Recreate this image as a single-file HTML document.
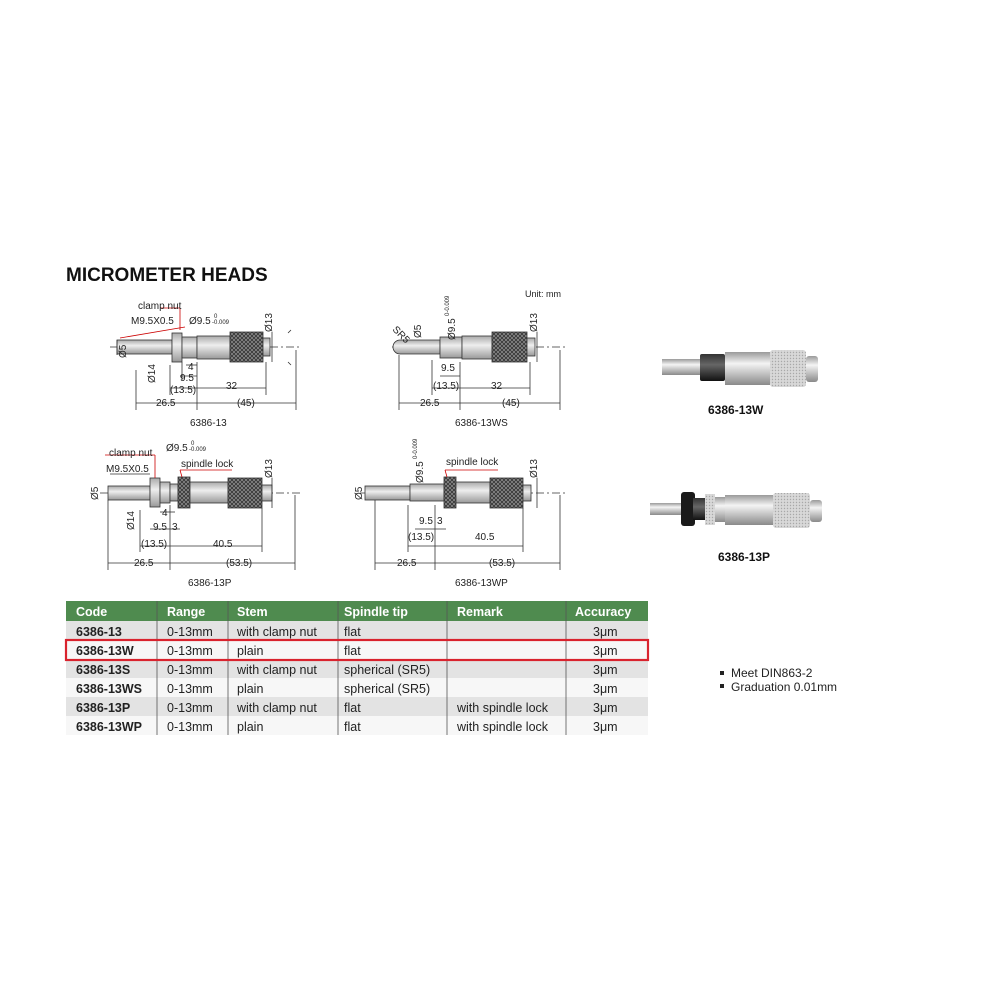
<!DOCTYPE html>
<html><head><meta charset="utf-8"><style>
body{margin:0;background:#fff;}
svg{display:block;font-family:"Liberation Sans",Arial,sans-serif;}
</style></head><body>
<svg width="990" height="990" viewBox="0 0 990 990" xmlns="http://www.w3.org/2000/svg">
<defs>
<pattern id="kn" width="4" height="4" patternUnits="userSpaceOnUse">
<rect width="4" height="4" fill="#8a8a8a"/>
<path d="M0 0L4 4M4 0L0 4" stroke="#333" stroke-width="0.8"/>
</pattern>
<pattern id="kn2" width="3" height="3" patternUnits="userSpaceOnUse">
<rect width="3" height="3" fill="#d8d8d8"/>
<circle cx="1.5" cy="1.5" r="0.7" fill="#a8a8a8"/>
</pattern>
<linearGradient id="met" x1="0" y1="0" x2="0" y2="1">
<stop offset="0" stop-color="#9a9a9a"/><stop offset="0.35" stop-color="#f4f4f4"/><stop offset="1" stop-color="#8a8a8a"/>
</linearGradient>
<linearGradient id="blk" x1="0" y1="0" x2="0" y2="1">
<stop offset="0" stop-color="#333"/><stop offset="0.4" stop-color="#666"/><stop offset="1" stop-color="#111"/>
</linearGradient>
<linearGradient id="dg" x1="0" y1="0" x2="0" y2="1">
<stop offset="0" stop-color="#aaa"/><stop offset="0.4" stop-color="#eee"/><stop offset="1" stop-color="#999"/>
</linearGradient>
</defs>

<text x="66" y="281" font-size="19" font-weight="bold" fill="#111">MICROMETER HEADS</text>
<text x="525" y="297" font-size="9" fill="#222">Unit: mm</text>

<g stroke="#333" stroke-width="0.8" fill="none" font-size="10">
<!-- Diagram 1 -->
<g>
<line x1="110" y1="347" x2="300" y2="347" stroke-dasharray="8 3 2 3"/>
<rect x="117" y="340" width="55" height="14" fill="url(#dg)"/>
<rect x="172" y="333" width="10" height="29" fill="url(#dg)"/>
<rect x="182" y="337" width="15" height="21" fill="url(#dg)"/>
<rect x="197" y="336" width="33" height="23" fill="url(#dg)"/>
<rect x="230" y="332" width="33" height="30" fill="url(#kn)"/>
<rect x="263" y="338" width="7" height="18" fill="url(#dg)"/>
<path d="M288 333 l3 -3 M288 362 l3 3"/>
<line x1="117" y1="340" x2="117" y2="355"/>
<line x1="136" y1="370" x2="136" y2="410"/><line x1="197" y1="362" x2="197" y2="410"/>
<line x1="296" y1="350" x2="296" y2="410"/><line x1="266" y1="362" x2="266" y2="395"/>
<line x1="170" y1="365" x2="170" y2="395"/><line x1="182" y1="362" x2="182" y2="380"/>
<line x1="136" y1="403" x2="197" y2="403"/><line x1="197" y1="403" x2="296" y2="403"/>
<line x1="170" y1="388" x2="197" y2="388"/><line x1="197" y1="388" x2="266" y2="388"/>
<line x1="180" y1="376" x2="197" y2="376"/><line x1="186" y1="365" x2="197" y2="365"/>
<line x1="272" y1="332" x2="272" y2="362"/>
<line x1="120" y1="338" x2="185" y2="327" stroke="#c00"/>
<line x1="160" y1="308" x2="180" y2="308" stroke="#c00"/><line x1="180" y1="308" x2="180" y2="330" stroke="#c00"/>
</g>
<!-- Diagram 2 -->
<g>
<line x1="392" y1="347" x2="565" y2="347" stroke-dasharray="8 3 2 3"/>
<path d="M400 340 h40 v14 h-40 a7 7 0 0 1 0 -14z" fill="url(#dg)"/>
<rect x="440" y="337" width="22" height="21" fill="url(#dg)"/>
<rect x="462" y="336" width="30" height="23" fill="url(#dg)"/>
<rect x="492" y="332" width="35" height="30" fill="url(#kn)"/>
<rect x="527" y="338" width="8" height="18" fill="url(#dg)"/>
<line x1="399" y1="355" x2="399" y2="410"/><line x1="460" y1="362" x2="460" y2="410"/>
<line x1="560" y1="350" x2="560" y2="410"/><line x1="530" y1="362" x2="530" y2="395"/>
<line x1="432" y1="360" x2="432" y2="395"/>
<line x1="399" y1="403" x2="560" y2="403"/><line x1="432" y1="388" x2="530" y2="388"/>
<line x1="440" y1="376" x2="460" y2="376"/>
<line x1="537" y1="332" x2="537" y2="362"/>
</g>
<!-- Diagram 3 -->
<g>
<line x1="100" y1="493" x2="300" y2="493" stroke-dasharray="8 3 2 3"/>
<rect x="108" y="486" width="42" height="14" fill="url(#dg)"/>
<rect x="150" y="478" width="10" height="29" fill="url(#dg)"/>
<rect x="160" y="482" width="10" height="21" fill="url(#dg)"/>
<rect x="170" y="484" width="8" height="17" fill="url(#dg)"/>
<rect x="178" y="477" width="12" height="31" fill="url(#kn)"/>
<rect x="190" y="482" width="38" height="21" fill="url(#dg)"/>
<rect x="228" y="478" width="34" height="30" fill="url(#kn)"/>
<rect x="262" y="485" width="10" height="16" fill="url(#dg)"/>
<line x1="108" y1="500" x2="108" y2="570"/><line x1="170" y1="505" x2="170" y2="570"/>
<line x1="295" y1="495" x2="295" y2="570"/><line x1="262" y1="508" x2="262" y2="552"/>
<line x1="140" y1="510" x2="140" y2="552"/>
<line x1="108" y1="563" x2="295" y2="563"/><line x1="140" y1="546" x2="262" y2="546"/>
<line x1="150" y1="529" x2="180" y2="529"/><line x1="160" y1="512" x2="175" y2="512"/>
<line x1="272" y1="478" x2="272" y2="508"/>
<line x1="110" y1="474" x2="150" y2="474"/>
<line x1="105" y1="455" x2="155" y2="455" stroke="#c00"/><line x1="155" y1="455" x2="155" y2="478" stroke="#c00"/>
<line x1="180" y1="470" x2="232" y2="470" stroke="#c00"/><line x1="180" y1="470" x2="182" y2="477" stroke="#c00"/>
</g>
<!-- Diagram 4 -->
<g>
<line x1="360" y1="493" x2="565" y2="493" stroke-dasharray="8 3 2 3"/>
<rect x="365" y="486" width="45" height="14" fill="url(#dg)"/>
<rect x="410" y="484" width="34" height="17" fill="url(#dg)"/>
<rect x="444" y="477" width="12" height="31" fill="url(#kn)"/>
<rect x="456" y="482" width="34" height="21" fill="url(#dg)"/>
<rect x="490" y="478" width="33" height="30" fill="url(#kn)"/>
<rect x="523" y="485" width="8" height="16" fill="url(#dg)"/>
<line x1="375" y1="500" x2="375" y2="570"/><line x1="435" y1="505" x2="435" y2="570"/>
<line x1="560" y1="495" x2="560" y2="570"/><line x1="523" y1="508" x2="523" y2="552"/>
<line x1="408" y1="505" x2="408" y2="552"/>
<line x1="375" y1="563" x2="560" y2="563"/><line x1="408" y1="546" x2="523" y2="546"/>
<line x1="415" y1="529" x2="446" y2="529"/>
<line x1="537" y1="478" x2="537" y2="508"/>
<line x1="445" y1="470" x2="498" y2="470" stroke="#c00"/><line x1="445" y1="470" x2="447" y2="477" stroke="#c00"/>
</g>
</g>

<g font-size="10" fill="#222">
<text x="138" y="309">clamp nut</text>
<text x="131" y="324">M9.5X0.5</text>
<text x="189" y="324">Ø9.5</text><text x="214" y="318" font-size="6">0</text><text x="212" y="324" font-size="6">-0.009</text>
<text transform="translate(272,332) rotate(-90)">Ø13</text>
<text transform="translate(126,358) rotate(-90)">Ø5</text>
<text transform="translate(155,383) rotate(-90)">Ø14</text>
<text x="188" y="370">4</text><text x="180" y="381">9.5</text>
<text x="170" y="393">(13.5)</text><text x="226" y="389">32</text>
<text x="156" y="406">26.5</text><text x="237" y="406">(45)</text>
<text x="190" y="426" font-size="10">6386-13</text>

<text transform="translate(392,330) rotate(45)">SR5</text>
<text transform="translate(421,338) rotate(-90)">Ø5</text>
<text transform="translate(455,340) rotate(-90)">Ø9.5</text><text transform="translate(449,316) rotate(-90)" font-size="6">0-0.009</text>
<text transform="translate(537,332) rotate(-90)">Ø13</text>
<text x="441" y="371">9.5</text><text x="433" y="389">(13.5)</text><text x="491" y="389">32</text>
<text x="420" y="406">26.5</text><text x="502" y="406">(45)</text>
<text x="455" y="426">6386-13WS</text>

<text x="109" y="456">clamp nut</text>
<text x="106" y="472">M9.5X0.5</text>
<text x="166" y="451">Ø9.5</text><text x="191" y="445" font-size="6">0</text><text x="189" y="451" font-size="6">-0.009</text>
<text x="181" y="467">spindle lock</text>
<text transform="translate(272,478) rotate(-90)">Ø13</text>
<text transform="translate(98,500) rotate(-90)">Ø5</text>
<text transform="translate(134,530) rotate(-90)">Ø14</text>
<text x="162" y="516">4</text><text x="153" y="530">9.5</text><text x="172" y="530">3</text>
<text x="141" y="547">(13.5)</text><text x="213" y="547">40.5</text>
<text x="134" y="566">26.5</text><text x="226" y="566">(53.5)</text>
<text x="188" y="586">6386-13P</text>

<text transform="translate(362,500) rotate(-90)">Ø5</text>
<text transform="translate(423,483) rotate(-90)">Ø9.5</text><text transform="translate(417,459) rotate(-90)" font-size="6">0-0.009</text>
<text x="446" y="465">spindle lock</text>
<text transform="translate(537,478) rotate(-90)">Ø13</text>
<text x="419" y="524">9.5</text><text x="437" y="524">3</text>
<text x="408" y="540">(13.5)</text><text x="475" y="540">40.5</text>
<text x="397" y="566">26.5</text><text x="489" y="566">(53.5)</text>
<text x="455" y="586">6386-13WP</text>
</g>

<!-- Photo 1 -->
<g>
<rect x="662" y="359" width="40" height="16" fill="url(#met)"/>
<rect x="700" y="354" width="25" height="27" rx="2" fill="url(#blk)"/>
<rect x="725" y="352" width="45" height="33" fill="url(#met)"/>
<rect x="770" y="350" width="36" height="37" rx="3" fill="url(#kn2)"/>
<rect x="806" y="356" width="12" height="26" rx="3" fill="url(#met)"/>
</g>
<text x="708" y="414" font-size="12" font-weight="bold" fill="#111">6386-13W</text>
<!-- Photo 2 -->
<g>
<rect x="650" y="503" width="35" height="12" fill="url(#met)"/>
<rect x="681" y="492" width="14" height="34" rx="3" fill="#1a1a1a"/>
<rect x="693" y="498" width="12" height="22" fill="url(#blk)"/>
<rect x="705" y="494" width="10" height="31" fill="url(#kn2)"/>
<rect x="715" y="497" width="10" height="25" fill="url(#met)"/>
<rect x="725" y="495" width="48" height="30" fill="url(#met)"/>
<rect x="773" y="493" width="37" height="35" rx="3" fill="url(#kn2)"/>
<rect x="810" y="500" width="12" height="22" rx="3" fill="url(#met)"/>
</g>
<text x="718" y="561" font-size="12" font-weight="bold" fill="#111">6386-13P</text>

<!-- Table -->
<g font-size="12.5" fill="#222">
<rect x="66" y="601" width="582" height="20" fill="#4f8b4f"/>
<rect x="66" y="621" width="582" height="19" fill="#e3e3e3"/>
<rect x="66" y="640" width="582" height="19" fill="#f7f7f7"/>
<rect x="66" y="659" width="582" height="19" fill="#e3e3e3"/>
<rect x="66" y="678" width="582" height="19" fill="#f7f7f7"/>
<rect x="66" y="697" width="582" height="19" fill="#e3e3e3"/>
<rect x="66" y="716" width="582" height="19" fill="#f7f7f7"/>
<g stroke="#555" stroke-width="0.8">
<line x1="157" y1="601" x2="157" y2="735"/><line x1="228" y1="601" x2="228" y2="735"/>
<line x1="338" y1="601" x2="338" y2="735"/><line x1="447" y1="601" x2="447" y2="735"/>
<line x1="566" y1="601" x2="566" y2="735"/>
</g>
<g fill="#fff" font-weight="bold" font-size="12.5">
<text x="76" y="616">Code</text><text x="167" y="616">Range</text><text x="237" y="616">Stem</text>
<text x="344" y="616">Spindle tip</text><text x="457" y="616">Remark</text><text x="575" y="616">Accuracy</text>
</g>
<g font-weight="bold">
<text x="76" y="636">6386-13</text><text x="76" y="655">6386-13W</text><text x="76" y="674">6386-13S</text>
<text x="76" y="693">6386-13WS</text><text x="76" y="712">6386-13P</text><text x="76" y="731">6386-13WP</text>
</g>
<text x="167" y="636">0-13mm</text><text x="167" y="655">0-13mm</text><text x="167" y="674">0-13mm</text>
<text x="167" y="693">0-13mm</text><text x="167" y="712">0-13mm</text><text x="167" y="731">0-13mm</text>
<text x="237" y="636">with clamp nut</text><text x="237" y="655">plain</text><text x="237" y="674">with clamp nut</text>
<text x="237" y="693">plain</text><text x="237" y="712">with clamp nut</text><text x="237" y="731">plain</text>
<text x="344" y="636">flat</text><text x="344" y="655">flat</text><text x="344" y="674">spherical (SR5)</text>
<text x="344" y="693">spherical (SR5)</text><text x="344" y="712">flat</text><text x="344" y="731">flat</text>
<text x="457" y="712">with spindle lock</text><text x="457" y="731">with spindle lock</text>
<text x="593" y="636">3μm</text><text x="593" y="655">3μm</text><text x="593" y="674">3μm</text>
<text x="593" y="693">3μm</text><text x="593" y="712">3μm</text><text x="593" y="731">3μm</text>
<rect x="66" y="640" width="582" height="20" fill="none" stroke="#d9232e" stroke-width="2.2"/>
</g>

<g font-size="12" fill="#222">
<rect x="720" y="671" width="4" height="4" fill="#222"/>
<text x="731" y="677">Meet DIN863-2</text>
<rect x="720" y="684" width="4" height="4" fill="#222"/>
<text x="731" y="691">Graduation 0.01mm</text>
</g>
</svg>
</body></html>
